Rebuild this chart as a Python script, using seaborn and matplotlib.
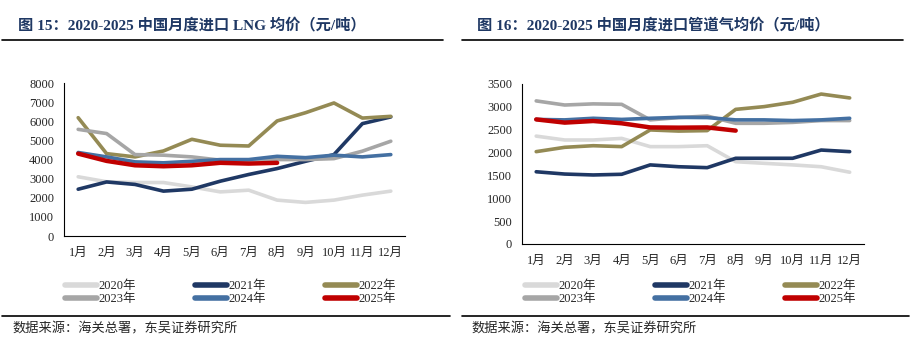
import pandas as pd
import seaborn as sns
import matplotlib.pyplot as plt
from matplotlib.lines import Line2D

# Data
months = ['1月', '2月', '3月', '4月', '5月', '6月', '7月', '8月', '9月', '10月', '11月', '12月']
years = ['2020年', '2021年', '2022年', '2023年', '2024年', '2025年']

lng_2020 = [3100, 2840, 2800, 2800, 2570, 2310, 2400, 1880, 1760, 1880, 2140, 2350]
lng_2021 = [2450, 2830, 2700, 2350, 2450, 2870, 3220, 3530, 3910, 4260, 5880, 6230]
lng_2022 = [6190, 4310, 4140, 4450, 5060, 4750, 4710, 6020, 6450, 6960, 6170, 6260]
lng_2023 = [5580, 5360, 4260, 4230, 4140, 3970, 3970, 4000, 4000, 4050, 4440, 4960]
lng_2024 = [4370, 4140, 3880, 3830, 3910, 4000, 4000, 4170, 4100, 4230, 4140, 4260]
lng_2025 = [4310, 3930, 3700, 3650, 3700, 3830, 3790, 3830]

pipe_2020 = [2360, 2275, 2275, 2310, 2130, 2130, 2150, 1800, 1765, 1730, 1690, 1570]
pipe_2021 = [1580, 1530, 1510, 1525, 1730, 1690, 1670, 1875, 1875, 1875, 2055, 2020]
pipe_2022 = [2020, 2115, 2150, 2130, 2495, 2470, 2480, 2945, 3005, 3100, 3280, 3195]
pipe_2023 = [3130, 3040, 3065, 3055, 2715, 2765, 2800, 2640, 2640, 2660, 2700, 2700]
pipe_2024 = [2725, 2715, 2750, 2725, 2750, 2770, 2765, 2715, 2715, 2700, 2715, 2750]
pipe_2025 = [2725, 2655, 2690, 2640, 2550, 2545, 2550, 2480]

colors = ['#D9D9D9', '#1F3864', '#948A54', '#A6A6A6', '#4470A2', '#C00000']
widths = [2.6, 2.6, 2.6, 2.6, 2.6, 3.2]


def to_long(series):
    rows = []
    for y, vals in zip(years, series):
        for i, v in enumerate(vals):
            rows.append({'month': i, 'year': y, 'value': v})
    return pd.DataFrame(rows)


lng_df = to_long([lng_2020, lng_2021, lng_2022, lng_2023, lng_2024, lng_2025])
pipe_df = to_long([pipe_2020, pipe_2021, pipe_2022, pipe_2023, pipe_2024, pipe_2025])

sns.set_style('white')
plt.rcParams['font.family'] = ['Noto Sans CJK SC', 'DejaVu Sans']
serif = ['Liberation Serif', 'Noto Sans CJK SC']

fig = plt.figure(figsize=(9.23, 3.55), dpi=100)

panels = [
    (lng_df, [0.0693, 0.335, 0.3695, 0.431], 8000, 1000, '图 15：2020-2025 中国月度进口 LNG 均价（元/吨）', 0.007),
    (pipe_df, [0.5655, 0.3127, 0.3705, 0.4507], 3500, 500, '图 16：2020-2025 中国月度进口管道气均价（元/吨）', 0.505),
]

for df, rect, ymax, step, title, tx in panels:
    ax = fig.add_axes(rect)
    for y, c, w in zip(years, colors, widths):
        sns.lineplot(data=df[df['year'] == y], x='month', y='value', color=c,
                     linewidth=w, ax=ax, legend=False)
    ax.set_xlim(-0.5, 11.5)
    ax.set_ylim(0, ymax)
    ax.set_yticks(range(0, ymax + 1, step))
    ax.set_xticks(range(12))
    ax.set_xticklabels(months, family=serif)
    ax.set_yticklabels([str(v) for v in range(0, ymax + 1, step)], family=serif)
    ax.set_xticks([i - 0.5 for i in range(13)], minor=True)
    ax.tick_params(axis='x', which='major', length=0, pad=8, labelsize=9)
    ax.tick_params(axis='x', which='minor', length=4, width=0.8, direction='out', color='black')
    ax.tick_params(axis='y', length=4, width=0.8, direction='out', color='black', labelsize=9, pad=3)
    ax.set_xlabel('')
    ax.set_ylabel('')
    for s in ['top', 'right']:
        ax.spines[s].set_visible(False)
    for s in ['left', 'bottom']:
        ax.spines[s].set_color('black')
        ax.spines[s].set_linewidth(0.8)

    # legend ordered row by row
    order = [0, 3, 1, 4, 2, 5]
    handles = [Line2D([], [], color=colors[i], linewidth=4) for i in order]
    labels = [years[i] for i in order]
    fig.legend(handles, labels, ncol=3, loc='upper left',
               bbox_to_anchor=(tx + 0.058, 0.225), frameon=False,
               prop={'family': serif, 'size': 9},
               handlelength=2.6, handletextpad=0.1, columnspacing=4.7,
               labelspacing=0.1, borderaxespad=0)

    fig.text(tx + 0.012, 0.93, title, fontsize=11, fontweight='bold', color='#1F3864',
             va='center', ha='left', family=serif)
    fig.add_artist(Line2D([tx - 0.005, tx + 0.473], [0.887, 0.887], color='black', linewidth=1.2))
    fig.add_artist(Line2D([tx - 0.005, tx + 0.48], [0.11, 0.11], color='black', linewidth=1.2))
    fig.text(tx + 0.006, 0.072, '数据来源：海关总署，东吴证券研究所', fontsize=9.5, va='center', ha='left')

plt.savefig('out.png', dpi=100)
